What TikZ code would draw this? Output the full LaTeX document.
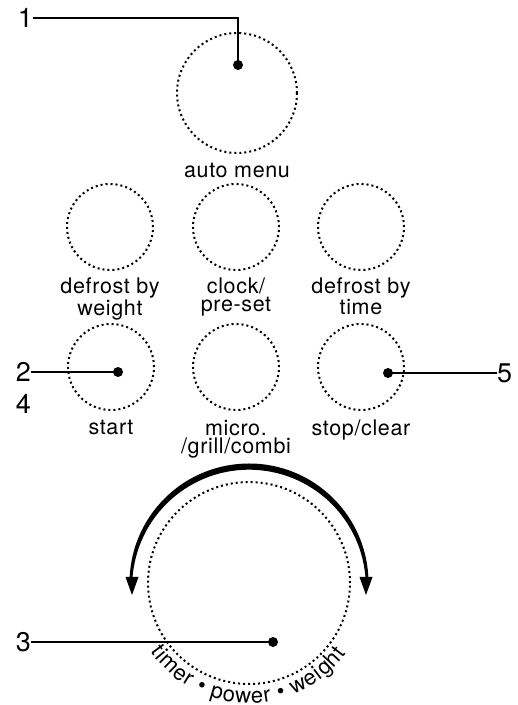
\documentclass[tikz,border=0pt]{standalone}
\usepackage{fontspec}
\newfontfamily\panelfont{TeX Gyre Heros}[LetterSpace=3]
\newfontfamily\numfont{TeX Gyre Heros}
\usetikzlibrary{positioning, calc, decorations.text}

\begin{document}
\begin{tikzpicture}[x=1pt, y=1pt,
		btn/.style={circle, draw, line width=2pt, dash pattern=on 2pt off 3pt, minimum size=86pt, inner sep=0},
		lbl/.style={align=center, inner sep=0, font=\panelfont\fontsize{21.5}{17.8}\selectfont},
		num/.style={inner sep=0, font=\numfont\fontsize{27}{27}\selectfont},
		dot/.style={circle, fill, inner sep=0, minimum size=10pt},
		leader/.style={line width=2.2pt}]
\useasboundingbox (0,0) rectangle (518,705);

% buttons
\node[btn, minimum size=120pt] (auto) at (237,612) {};
\node[btn] (dfw) at (110,478) {};
\node[btn] (clk) at (236,478) {};
\node[btn] (dft) at (361,478) {};
\node[btn] (start) at (111,338) {};
\node[btn] (micro) at (236,338) {};
\node[btn] (stop) at (361,338) {};
\node[btn, minimum size=202pt] (dial) at (249,122) {};

% labels
\node[lbl, below=9pt of auto] (autol) {auto menu};
\node[lbl, below=7pt of dfw] (dfwl) {defrost by\\weight};
\node[lbl, below=7pt of clk] (clkl) {clock/\\pre-set};
\node[lbl, below=7pt of dft] (dftl) {defrost by\\time};
\node[lbl, below=9pt of start] (startl) {start};
\node[lbl, below=9pt of micro] (microl) {micro.\\/grill/combi};
\node[lbl, below=9pt of stop] (stopl) {stop/clear};

% knob arrow
\coordinate (ac) at (dial.center);
\coordinate (ai) at ([yshift=-3.5pt]dial.center);
\fill ($(ac)+(3:119.5pt)$) arc[start angle=3, end angle=177, radius=119.5pt]
	-- ($(ai)+(177:116.8pt)$) arc[start angle=177, end angle=3, radius=116.8pt] -- cycle;
\fill ($(ac)+(-117,-12)$) -- ++(-6.5,18) -- ++(13,0) -- cycle;
\fill ($(ac)+(117,-12)$) -- ++(-6.5,18) -- ++(13,0) -- cycle;
\path[decorate, decoration={text along path, text align=fit to path,
	text={|\numfont\fontsize{22}{22}\selectfont|timer • power • weight}}]
	($(ac)+(215:120pt)$) arc[start angle=215, end angle=324, radius=120pt];

% pointers
\node[dot] (d1) at (238,640) {};
\node[dot] (d2) at (118,333) {};
\node[dot] (d5) at (388,332) {};
\node[dot] (d3) at (273,63) {};
\node[num, anchor=east] (n1) at (33,687) {1};
\node[num, anchor=east] (n2) at (31,333) {2};
\node[num, below=12pt of n2] (n4) {4};
\node[num, anchor=west] (n5) at (497,332) {5};
\node[num, anchor=east] (n3) at (31,63) {3};
\draw[leader] (d1.center) |- (n1);
\draw[leader] (n2) -- (d2.center);
\draw[leader] (d5.center) -- (n5);
\draw[leader] (n3) -- (d3.center);
\end{tikzpicture}
\end{document}
